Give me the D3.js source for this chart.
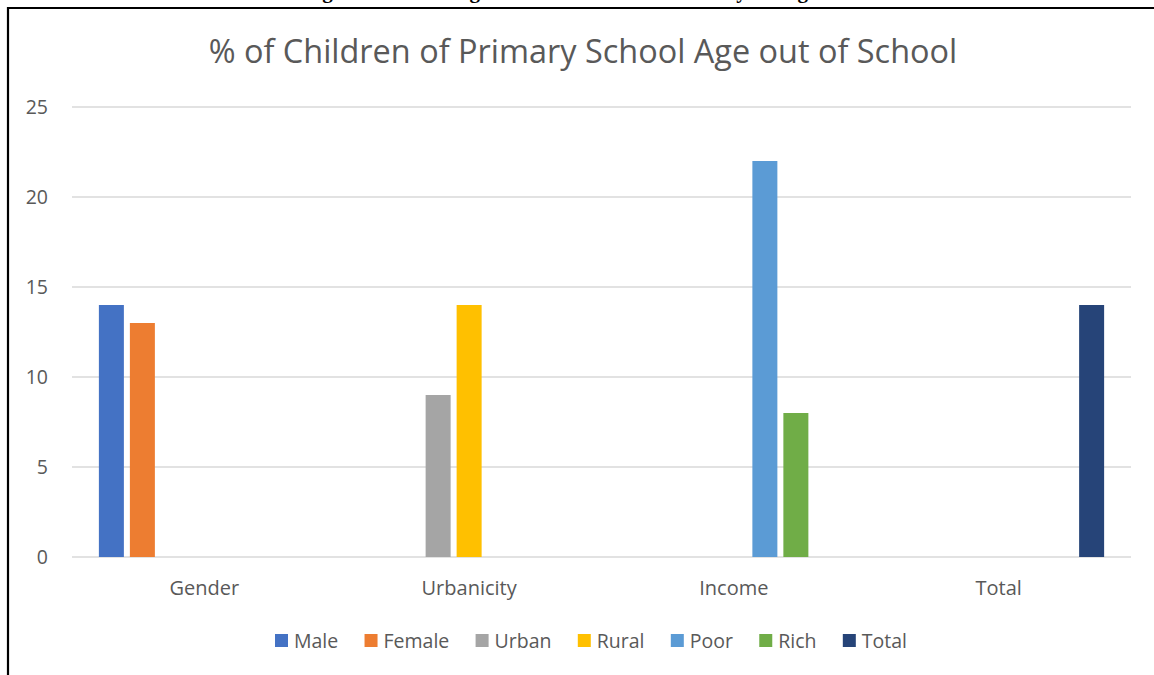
<!DOCTYPE html>
<html>
<head>
<meta charset="utf-8">
<script src="https://cdn.jsdelivr.net/npm/d3@7"></script>
<style>
  html, body { margin: 0; padding: 0; background: #fff; }
  svg { display: block; }
  text { font-family: "Open Sans", "Noto Sans", sans-serif; }
</style>
</head>
<body>
<svg id="chart" width="1154" height="675"></svg>
<script>
// ---- data ----
const categories = ["Gender", "Urbanicity", "Income", "Total"];
const seriesNames = ["Male", "Female", "Urban", "Rural", "Poor", "Rich", "Total"];
const seriesColors = ["#4472C4", "#ED7D31", "#A5A5A5", "#FFC000", "#5B9BD5", "#70AD47", "#264478"];
// value of each series in each category (null = no bar)
const maleValues   = [14, null, null, null];
const femaleValues = [13, null, null, null];
const urbanValues  = [null, 9, null, null];
const ruralValues  = [null, 14, null, null];
const poorValues   = [null, null, 22, null];
const richValues   = [null, null, 8, null];
const totalValues  = [null, null, null, 14];
const yTicks = [0, 5, 10, 15, 20, 25];
const chartTitle = "% of Children of Primary School Age out of School";
const captionText = "Figure 3: Percentage of Children out of School by Background";

const seriesValues = [maleValues, femaleValues, urbanValues, ruralValues, poorValues, richValues, totalValues];

const svg = d3.select("#chart");
const grey = "#595959";

// caption cut by the page top
svg.append("text")
  .attr("x", 583).attr("y", -2)
  .attr("text-anchor", "middle")
  .style("font-family", "'Liberation Serif', 'DejaVu Serif', serif")
  .style("font-weight", "bold")
  .style("font-size", "21px")
  .attr("fill", "#000")
  .text(captionText);

// frame
svg.append("path")
  .attr("d", "M8,675 L8,8 L1154,8")
  .attr("fill", "none").attr("stroke", "#000").attr("stroke-width", 2.2);

// scales
const plotLeft = 72, plotRight = 1131, plotTop = 107, plotBottom = 557;
const y = d3.scaleLinear().domain([0, 25]).range([plotBottom, plotTop]);
const x0 = d3.scaleBand().domain(categories).range([plotLeft, plotRight])
  .paddingInner(0.1804).paddingOuter(0.0902);
const x1 = d3.scaleBand().domain(seriesNames).range([0, x0.bandwidth()])
  .paddingInner(6 / 31).paddingOuter(3 / 31);
const color = d3.scaleOrdinal().domain(seriesNames).range(seriesColors);

// gridlines
svg.append("g").selectAll("line").data(yTicks).join("line")
  .attr("x1", plotLeft).attr("x2", plotRight)
  .attr("y1", d => y(d)).attr("y2", d => y(d))
  .attr("stroke", "#d9d9d9").attr("stroke-width", 1.5);

// y axis labels
const yAxis = d3.axisLeft(y).tickValues(yTicks).tickSize(0).tickPadding(0);
const yg = svg.append("g").attr("transform", "translate(48,0)").call(yAxis);
yg.select(".domain").remove();
yg.selectAll("text").attr("fill", grey).style("font-size", "19.5px")
  .style("font-family", "'Open Sans', sans-serif").attr("dy", "0.35em");

// bars
const barData = [];
seriesNames.forEach((s, si) => {
  categories.forEach((c, ci) => {
    const v = seriesValues[si][ci];
    if (v != null) barData.push({ cat: c, series: s, value: v });
  });
});
svg.append("g").selectAll("rect").data(barData).join("rect")
  .attr("x", d => x0(d.cat) + x1(d.series))
  .attr("width", x1.bandwidth())
  .attr("y", d => y(d.value))
  .attr("height", d => y(0) - y(d.value))
  .attr("fill", d => color(d.series));

// x axis labels
const xAxis = d3.axisBottom(x0).tickSize(0).tickPadding(0);
const xg = svg.append("g").attr("transform", `translate(0,${plotBottom + 24})`).call(xAxis);
xg.select(".domain").remove();
xg.selectAll("text").attr("fill", grey).style("font-size", "20px")
  .style("font-family", "'Open Sans', sans-serif").attr("dy", "0.71em");

// title
const title = svg.append("text")
  .attr("x", 583).attr("y", 63)
  .attr("text-anchor", "middle")
  .attr("fill", grey)
  .style("font-size", "31px")
  .text(chartTitle);
const tw = title.node().getComputedTextLength();
title.style("font-size", (31 * 749 / tw) + "px");

// legend
const legend = svg.append("g");
const legendItems = legend.selectAll("g").data(seriesNames).join("g");
legendItems.append("rect").attr("width", 13).attr("height", 13).attr("y", -7)
  .attr("fill", d => color(d));
legendItems.append("text").attr("x", 19).attr("dy", "0.35em")
  .attr("fill", grey).style("font-size", "19.5px").text(d => d);
const itemWidths = [];
legendItems.each(function () {
  itemWidths.push(19 + d3.select(this).select("text").node().getComputedTextLength());
});
const targetLegendWidth = 632;
const gap = (targetLegendWidth - d3.sum(itemWidths)) / (itemWidths.length - 1);
let cx = 0;
legendItems.each(function (d, i) {
  d3.select(this).attr("transform", `translate(${cx},0)`);
  cx += itemWidths[i] + gap;
});
legend.attr("transform", `translate(${591 - targetLegendWidth / 2},641)`);
</script>
</body>
</html>
